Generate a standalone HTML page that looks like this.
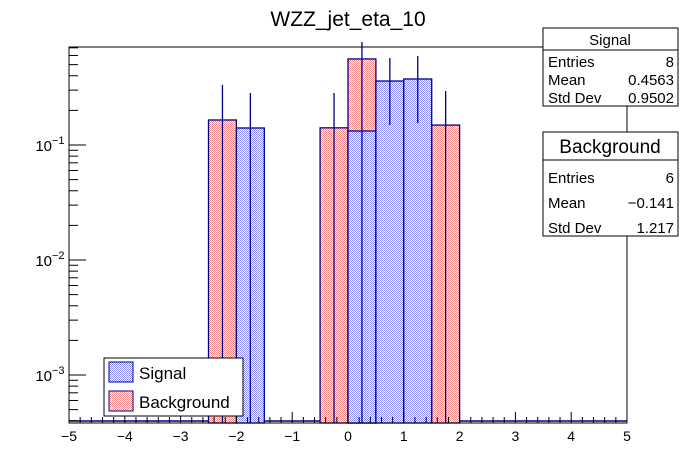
<!DOCTYPE html>
<html><head><meta charset="utf-8">
<style>
html,body{margin:0;padding:0;background:#fff;}
svg{display:block;font-family:"Liberation Sans",sans-serif;}
</style></head>
<body>
<svg id="c" width="696" height="472" viewBox="0 0 696 472">
<defs>
<pattern id="hatchR" width="2" height="2" patternUnits="userSpaceOnUse"><rect width="2" height="2" fill="#fff"/><rect width="1" height="1" fill="#f08a8a"/><rect x="1" y="1" width="1" height="1" fill="#f08a8a"/></pattern>
<pattern id="hatchB" width="2" height="2" patternUnits="userSpaceOnUse"><rect width="2" height="2" fill="#fff"/><rect width="1" height="1" fill="#8a8af0"/><rect x="1" y="1" width="1" height="1" fill="#8a8af0"/></pattern>
</defs>
<text x="348" y="26" font-size="21" text-anchor="middle">WZZ_jet_eta_10</text>
<g id="plot"></g>
<rect x="69" y="47" width="558" height="376" fill="none" stroke="#000" stroke-width="1"/>
<g id="axes"></g>
<g font-size="15">
<rect x="543" y="28" width="135" height="78" fill="#fff" stroke="#000"/>
<line x1="543" y1="50" x2="678" y2="50" stroke="#000"/>
<text x="610" y="45" text-anchor="middle">Signal</text>
<text x="548" y="67">Entries</text><text x="674" y="67" text-anchor="end">8</text>
<text x="548" y="85">Mean</text><text x="674" y="85" text-anchor="end">0.4563</text>
<text x="548" y="103">Std Dev</text><text x="674" y="103" text-anchor="end">0.9502</text>
</g>
<line x1="627" y1="106" x2="627" y2="132" stroke="#000"/>
<line x1="627" y1="236" x2="627" y2="250" stroke="#000"/>
<g font-size="15">
<rect x="543" y="132" width="135" height="104" fill="#fff" stroke="#000"/>
<line x1="543" y1="160" x2="678" y2="160" stroke="#000"/>
<text x="610" y="153" text-anchor="middle" font-size="19">Background</text>
<text x="548" y="183">Entries</text><text x="674" y="183" text-anchor="end">6</text>
<text x="548" y="208">Mean</text><text x="674" y="208" text-anchor="end">−0.141</text>
<text x="548" y="233">Std Dev</text><text x="674" y="233" text-anchor="end">1.217</text>
</g>
<g font-size="17">
<rect x="104" y="358" width="139" height="58" fill="#fff" stroke="#000"/>
<rect x="109" y="362" width="24" height="20" fill="url(#hatchB)" stroke="#00008b"/>
<text x="139" y="379">Signal</text>
<rect x="109" y="391" width="24" height="20" fill="url(#hatchR)" stroke="#00008b"/>
<text x="139" y="408">Background</text>
</g>
</svg>
<script>
const binLo = [-2.5,-2,-0.5,0,0.5,1,1.5];
const signalVals = [0,0.1406,0,0.1324,0.360,0.375,0];
const signalErrHi = [0,0.283,0,0,0.571,0.595,0];
const signalErrLo = [0,0,0,0,0.149,0.155,0];
const bgVals = [0.165,0,0.141,0.560,0,0,0.149];
const bgErrHi = [0.333,0,0.283,0.787,0,0,0.295];
const xTicks = [-5,-4,-3,-2,-1,0,1,2,3,4,5];
const xTickLabels = ["−5","−4","−3","−2","−1","0","1","2","3","4","5"];
const yDecades = [-3,-2,-1];
const yDecadeLabels = ["10","10","10"];
const binW = 0.5;

const NS="http://www.w3.org/2000/svg";
const X0=69,X1=627,Y0=423,Y1=47;
const xs=v=>X0+(v+5)/10*(X1-X0);
const ys=v=>145-115*(Math.log10(v)+1);
const plot=document.getElementById('plot'), axes=document.getElementById('axes');
function mk(tag,attrs,parent){const e=document.createElementNS(NS,tag);for(const k in attrs)e.setAttribute(k,attrs[k]);parent.appendChild(e);return e;}

const bl=mk('line',{x1:X0,y1:421,x2:X1,y2:421,stroke:'#00008b','stroke-width':1.5},plot);



function drawSeries(vals,fill,name){
  binLo.forEach((lo,i)=>{
    if(vals[i]<=0)return;
    const y=ys(vals[i]);
    const r=mk('rect',{x:xs(lo),y:y,width:xs(lo+binW)-xs(lo),height:Y0-y,fill:fill,stroke:'#00008b','stroke-width':1.3},plot);
    
    
  });
}
function drawErr(vals,hi,lo,name){
  binLo.forEach((b,i)=>{
    if(vals[i]<=0||hi[i]<=0)return;
    const cx=xs(b+binW/2);
    const yb=lo[i]>0?ys(lo[i]):Y0;
    const l=mk('line',{x1:cx,y1:ys(hi[i]),x2:cx,y2:yb,stroke:'#00008b','stroke-width':1.3},plot);
    
    
  });
}
drawSeries(bgVals,'url(#hatchR)','background');
drawSeries(signalVals,'url(#hatchB)','signal');
drawErr(bgVals,bgErrHi,bgErrHi.map(()=>0),'background');
drawErr(signalVals,signalErrHi,signalErrLo,'signal');

for(let v=-5;v<=5.001;v+=0.2){
  const major=Math.abs(v-Math.round(v))<1e-6;
  mk('line',{x1:xs(v),y1:Y0,x2:xs(v),y2:Y0-(major?11:6),stroke:'#000'},axes);
}
xTicks.forEach((t,i)=>{
  const tx=mk('text',{x:xs(t),y:441,'font-size':14,'text-anchor':'middle'},axes);
  tx.textContent=xTickLabels[i];
  
  
});
for(let d=-4;d<=0;d++){
  for(let m=1;m<10;m++){
    const v=m*Math.pow(10,d);
    const y=ys(v);
    if(y<Y1||y>Y0)continue;
    mk('line',{x1:X0,y1:y,x2:X0+(m===1?17:9),y2:y,stroke:'#000'},axes);
  }
}
yDecades.forEach((d,i)=>{
  const y=ys(Math.pow(10,d));
  const t=mk('text',{x:52,y:y+6,'font-size':15,'text-anchor':'end'},axes);
  t.textContent=yDecadeLabels[i];
  
  
  const s=mk('text',{x:52,y:y-1,'font-size':11},axes);
  s.textContent=String(d).replace('-','−');
  
  
});
</script>
</body></html>
